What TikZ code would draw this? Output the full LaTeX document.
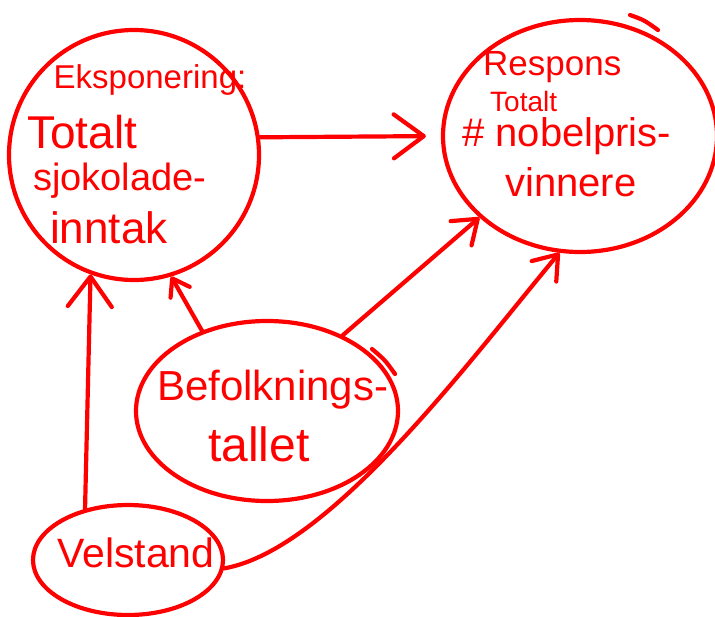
\documentclass[tikz,border=0pt]{standalone}
\usepackage{fontspec}
\setmainfont{Liberation Sans}
\usetikzlibrary{shapes.geometric,arrows.meta}
\definecolor{pen}{RGB}{255,0,0}
\begin{document}
\begin{tikzpicture}[x=1pt,y=-1pt,
  bubble/.style={draw=pen,line width=4.2pt,ellipse,inner sep=0pt},
  word/.style={text=pen,inner sep=0pt,anchor=center},
  link/.style={draw=pen,line width=4.2pt,line cap=round,line join=round},
  bigtip/.style={-{Straight Barb[length=30pt,width=44pt,round]}},
  midtip/.style={-{Straight Barb[length=22pt,width=32pt,round]}},
  smalltip/.style={-{Straight Barb[length=16pt,width=22pt,round]}}]
\useasboundingbox (0,0) rectangle (715,616);
% bubbles
\node[bubble,minimum width=250pt,minimum height=250pt] (A) at (134,155) {};
\node[bubble,minimum width=274pt,minimum height=232pt] (B) at (580,136) {};
\node[bubble,minimum width=262pt,minimum height=180pt] (C) at (267,411) {};
\node[bubble,minimum width=190pt,minimum height=110pt] (D) at (128,560) {};
% overlapping pen strokes
\draw[link] (630,15) .. controls (644,20) .. (658,30);
\draw[link] (372,349) .. controls (385,360) .. (395,374);
% texts
\node[word,font=\fontsize{33}{33}\selectfont] (a1) at (150,80) {Eksponering:};
\node[word,font=\fontsize{46}{46}\selectfont,anchor=west] (a2) at (27,132) {Totalt};
\node[word,font=\fontsize{38}{38}\selectfont,anchor=west] (a3) at (33,181) {sjokolade-};
\node[word,font=\fontsize{44}{44}\selectfont,anchor=west] (a4) at (50,228) {inntak};
\node[word,font=\fontsize{35}{35}\selectfont,anchor=west] (b1) at (483,67) {Respons};
\node[word,font=\fontsize{28}{28}\selectfont,anchor=west] (b2) at (490,101) {Totalt};
\node[word,font=\fontsize{40}{40}\selectfont,anchor=west] (b3) at (462,136) {\# nobelpris-};
\node[word,font=\fontsize{40}{40}\selectfont,anchor=west] (b4) at (505,182) {vinnere};
\node[word,font=\fontsize{42}{42}\selectfont,anchor=west] (c1) at (157,390) {Befolknings-};
\node[word,font=\fontsize{48}{48}\selectfont,anchor=west] (c2) at (208,444) {tallet};
\node[word,font=\fontsize{41}{41}\selectfont,anchor=west] (d1) at (57,553) {Velstand};
% connectors
\draw[link,bigtip,shorten >=15pt] (A.8) -- (B.west);
\draw[link,midtip] (C.45) -- (B.219);
\draw[link,midtip] (D.-5) .. controls (330,550) and (470,360) .. (B.260);
\draw[link,bigtip] (D.130) -- (A.250);
\draw[link,smalltip] (C.129) -- (A.287);
\end{tikzpicture}
\end{document}
